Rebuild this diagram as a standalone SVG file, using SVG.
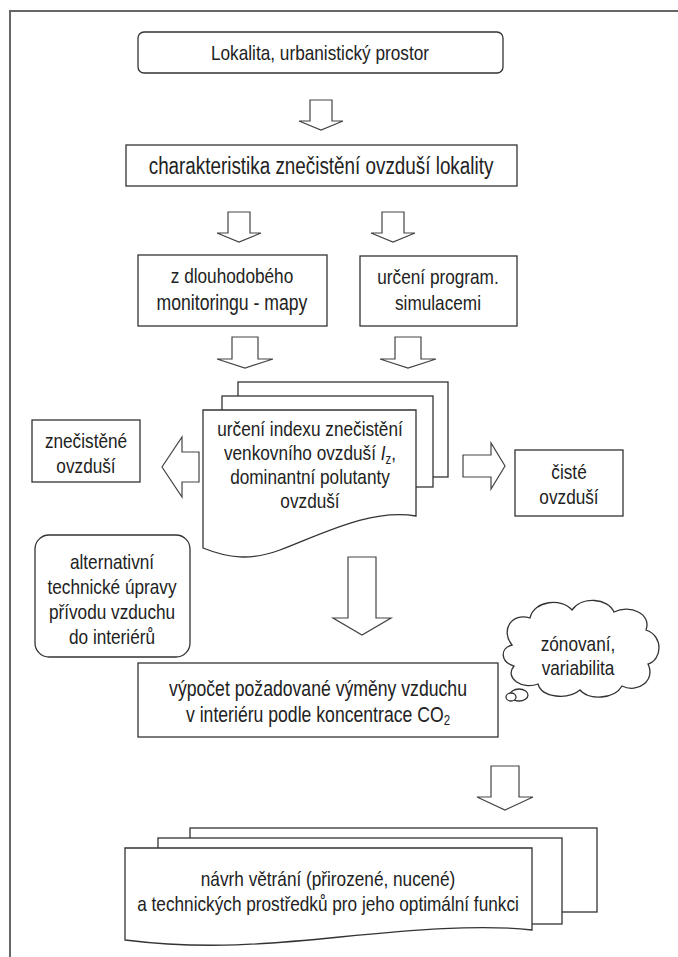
<svg xmlns="http://www.w3.org/2000/svg" width="678" height="957" viewBox="0 0 678 957">
<style>
.bx{fill:#fff;stroke:#333;stroke-width:1.3}
.ar{fill:#fff;stroke:#444;stroke-width:1.2;stroke-linejoin:miter}
.fr{fill:none;stroke:#666;stroke-width:2}
text{font-family:"Liberation Sans",Arial,sans-serif;font-size:21px;fill:#222;text-anchor:middle}
.big{font-size:23px}
.md{font-size:21.5px}
</style>
<rect width="678" height="957" fill="#fff"/>
<path class="fr" d="M10,957 V11 H678"/>

<g id="connectors">
<path class="ar" d="M310,100 H332 V121 H343 L321,130 L299,121 H310 Z"/>
<path class="ar" d="M228,212 H250 V233 H261 L239,242 L217,233 H228 Z"/>
<path class="ar" d="M382,212 H404 V233 H415 L393,242 L371,233 H382 Z"/>
<path class="ar" d="M232,337 H258 V359 H273 L245,368 L217,359 H232 Z"/>
<path class="ar" d="M395,337 H421 V359 H436 L408,368 L380,359 H395 Z"/>
<path class="ar" d="M199,452 V482 H182 V497 L162,467 L182,437 V452 Z"/>
<path class="ar" d="M463,455 H491 V443 L505,466 L491,489 V477 H463 Z"/>
<path class="ar" d="M348,557 H376 V618 H391 L362,635 L333,618 H348 Z"/>
<path class="ar" d="M491,766 H519 V797 H533 L505,810 L477,797 H491 Z"/>
</g>

<g id="n1"><rect class="bx" x="138" y="32" width="365" height="41" rx="6"/><text transform="translate(320,60) scale(0.82,1)">Lokalita, urbanistický prostor</text></g>
<g id="n2"><rect class="bx" x="126" y="145" width="391" height="41"/><text class="big" transform="translate(321,174) scale(0.82,1)">charakteristika znečistění ovzduší lokality</text></g>
<g id="n3"><rect class="bx" x="138" y="255" width="189" height="71"/><text transform="translate(232,283) scale(0.82,1)">z dlouhodobého</text><text class="md" transform="translate(232,310) scale(0.82,1)">monitoringu - mapy</text></g>
<g id="n4"><rect class="bx" x="360" y="256" width="157" height="70"/><text transform="translate(438,284) scale(0.82,1)">určení program.</text><text transform="translate(438,310) scale(0.82,1)">simulacemi</text></g>
<g id="n5">
<rect class="bx" x="238" y="382" width="210" height="95"/>
<rect class="bx" x="222" y="396" width="211" height="91"/>
<path class="bx" d="M203,410 H416 V516 C372,508 322,534 280,550 C250,561 228,558 203,548 Z"/>
<text transform="translate(310,436) scale(0.82,1)">určení indexu znečistění</text>
<text transform="translate(310,460) scale(0.82,1)">venkovního ovzduší <tspan font-style="italic">I</tspan><tspan font-size="14" dy="4">z</tspan><tspan dy="-4">,</tspan></text>
<text transform="translate(310,484) scale(0.82,1)">dominantní polutanty</text>
<text transform="translate(310,508) scale(0.82,1)">ovzduší</text>
</g>
<g id="n6"><rect class="bx" x="32" y="420" width="108" height="62"/><text transform="translate(86,448) scale(0.82,1)">znečistěné</text><text transform="translate(86,473) scale(0.82,1)">ovzduší</text></g>
<g id="n7"><rect class="bx" x="515" y="450" width="108" height="66"/><text transform="translate(569,479) scale(0.82,1)">čisté</text><text transform="translate(569,504) scale(0.82,1)">ovzduší</text></g>
<g id="n8"><rect class="bx" x="35" y="535" width="155" height="122" rx="14"/><text transform="translate(112,569) scale(0.82,1)">alternativní</text><text transform="translate(112,594) scale(0.82,1)">technické úpravy</text><text transform="translate(112,619) scale(0.82,1)">přívodu vzduchu</text><text transform="translate(112,644) scale(0.82,1)">do interiérů</text></g>
<g id="n9">
<path class="bx" d="M512,645 C500,630 512,612 530,618 C534,600 562,598 572,610 C582,596 608,598 614,612 C630,604 652,614 646,630 C664,636 662,660 648,664 C656,680 638,694 622,686 C614,700 588,700 580,690 C568,700 542,698 538,684 C522,690 504,678 514,666 C500,662 500,648 512,645 Z"/>
<ellipse class="bx" cx="519" cy="695" rx="9" ry="6"/>
<ellipse class="bx" cx="511" cy="697" rx="5" ry="4"/>
<text transform="translate(578,651) scale(0.82,1)">zónovaní,</text><text transform="translate(578,675) scale(0.82,1)">variabilita</text>
</g>
<g id="n10"><rect class="bx" x="138" y="663" width="360" height="74"/><text class="md" transform="translate(318,696) scale(0.82,1)">výpočet požadované výměny vzduchu</text><text class="md" transform="translate(318,722) scale(0.82,1)">v interiéru podle koncentrace CO<tspan font-size="14" dy="3">2</tspan></text></g>
<g id="n11">
<rect class="bx" x="190" y="828" width="407" height="84"/>
<rect class="bx" x="158" y="838" width="404" height="86"/>
<path class="bx" d="M125,848 H532 V930 C480,924 410,930 340,937 C270,944 205,950 125,940 Z"/>
<text transform="translate(328,886) scale(0.82,1)">návrh větrání (přirozené, nucené)</text>
<text transform="translate(328,911) scale(0.82,1)">a technických prostředků pro jeho optimální funkci</text>
</g>
</svg>
